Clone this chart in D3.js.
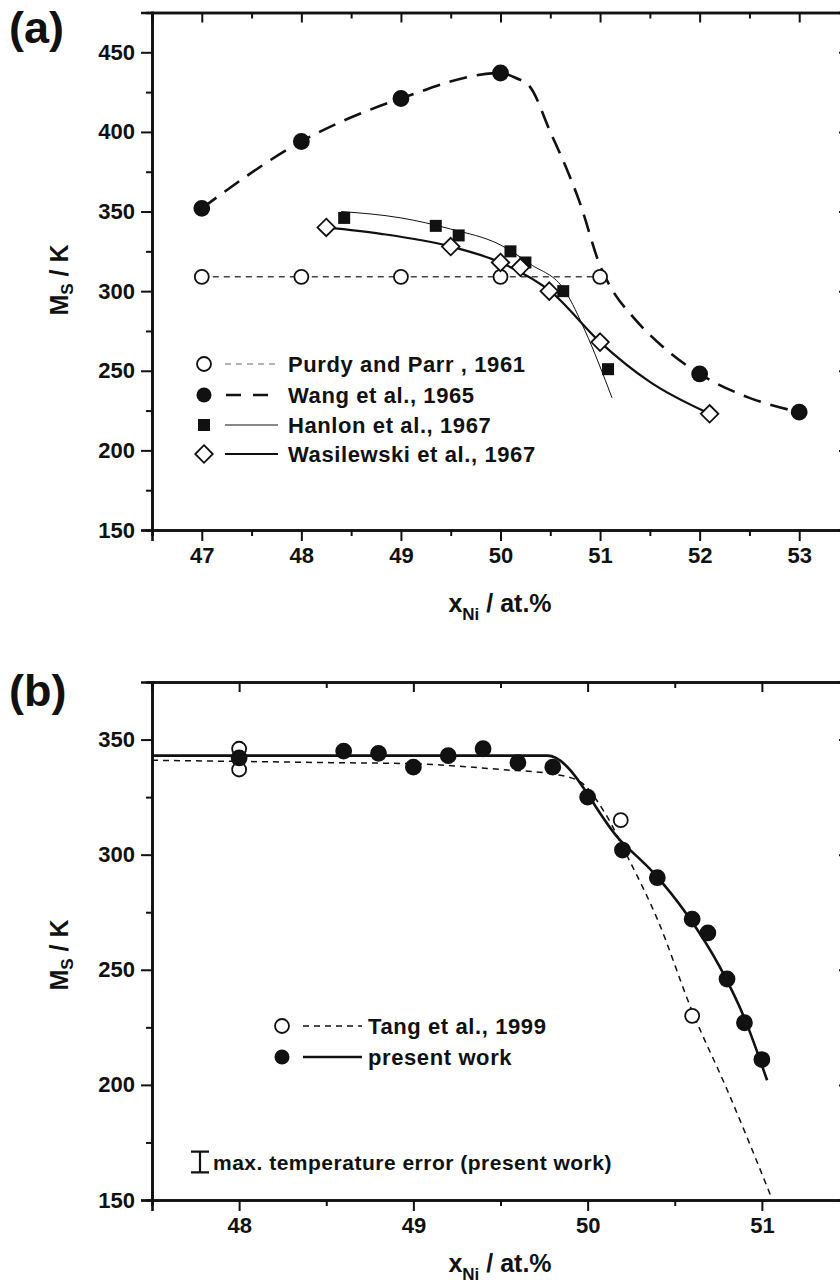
<!DOCTYPE html>
<html lang="en">
<head>
<meta charset="UTF-8"/>
<title>Ms vs xNi</title>
<script src="https://d3js.org/d3.v7.min.js"></script>
<style>
	body { margin: 0; background: #fff; }
	svg text { font-family: "Liberation Sans", Arial, sans-serif; font-weight: bold; fill: #111; }
	.axis path, .axis line { stroke: #111; }
	.axis text { font-size: 22px; }
</style>
</head>
<body>
<script>
	// ---- panel (a) data ----
	var aXTicks = [47,48,49,50,51,52,53];
	var aYTicks = [150,200,250,300,350,400,450];
	var purdy = [[47,309],[48,309],[49,309],[50,309],[51,309]];
	var wang = [[47,352],[48,394],[49,421],[50,437],[52,248],[53,224]];
	var wangFit = [[47,352],[48,394],[49,421],[50,437],[50.15,434],[50.3,428],[50.5,400],[50.67,376],[50.8,355],[51.0,316],[51.15,298],[51.3,286],[51.65,264],[52,248],[52.5,233],[53,224]];
	var hanlon = [[48.43,346],[49.35,341],[49.58,335],[50.1,325],[50.25,318],[50.63,300],[51.08,251]];
	var hanlonFit = [[48.4,350],[49.0,346],[49.5,339],[50.0,329],[50.3,317],[50.65,300],[50.85,275],[51.12,233]];
	var wasil = [[48.25,340],[49.5,328],[50.0,318],[50.2,315],[50.49,300],[51.0,268],[52.1,223]];
	var wasilFit = [[48.25,340],[48.8,336],[49.5,328],[50.0,318],[50.5,300],[51.0,268],[51.5,243],[52.1,223]];
	var aLegend = ["Purdy and Parr , 1961","Wang et al., 1965","Hanlon et al., 1967","Wasilewski et al., 1967"];

	// ---- panel (b) data ----
	var bXTicks = [48,49,50,51];
	var bYTicks = [150,200,250,300,350];
	var tang = [[48,346],[48,337],[50.19,315],[50.6,230]];
	var tangFit = [[47.5,341],[48.5,340],[49,339.5],[49.5,337],[49.8,335],[49.95,332],[50.1,318],[50.23,299],[50.4,272],[50.6,232],[50.8,198],[51.05,152]];
	var present = [[48,342],[48.6,345],[48.8,344],[49.0,338],[49.2,343],[49.4,346],[49.6,340],[49.8,338],[50.0,325],[50.2,302],[50.4,290],[50.6,272],[50.69,266],[50.8,246],[50.9,227],[51.0,211]];
	var presentFit = [[47.5,343],[49.77,343],[50.19,306],[50.38,292],[50.57,274],[50.76,251],[50.9,229],[51.03,202]];
	var bLegend = ["Tang et al., 1999","present work"];
	var maxErr = 4.5;

	var W = 840, H = 1286;
	var svg = d3.select("body").append("svg").attr("width",W).attr("height",H);

	function frame(g, x, y, xTicks, yTicks, xMinor, yMinor){
		var x0 = x.range()[0], x1 = x.range()[1], y0 = y.range()[0], y1 = y.range()[1];
		g.append("g").attr("class","axis").attr("transform","translate(0,"+y0+")")
			.call(d3.axisBottom(x).tickValues(xTicks).tickSize(11).tickPadding(6).tickFormat(d3.format("d")));
		g.append("g").attr("class","axis").attr("transform","translate(0,"+y0+")")
			.call(d3.axisBottom(x).tickValues(xMinor).tickSize(6).tickFormat(""));
		g.append("g").attr("class","axis").attr("transform","translate("+x0+",0)")
			.call(d3.axisLeft(y).tickValues(yTicks).tickSize(11).tickPadding(6).tickFormat(d3.format("d")));
		g.append("g").attr("class","axis").attr("transform","translate("+x0+",0)")
			.call(d3.axisLeft(y).tickValues(yMinor).tickSize(6).tickFormat(""));
		g.append("g").attr("class","axis").attr("transform","translate(0,"+y1+")")
			.call(d3.axisBottom(x).tickValues(xTicks).tickSize(10).tickFormat(""));
		g.append("g").attr("class","axis").attr("transform","translate(0,"+y1+")")
			.call(d3.axisBottom(x).tickValues(xMinor).tickSize(6).tickFormat(""));
		g.append("g").attr("class","axis").attr("transform","translate("+x1+",0)")
			.call(d3.axisLeft(y).tickValues(yTicks).tickSize(10).tickFormat(""));
		g.append("g").attr("class","axis").attr("transform","translate("+x1+",0)")
			.call(d3.axisLeft(y).tickValues(yMinor).tickSize(6).tickFormat(""));
		g.selectAll(".axis path").attr("stroke-width",2.6);
		g.selectAll(".axis line").attr("stroke-width",2);
	}

	function titles(g, letter, ly, yMid, xTitleY){
		g.append("text").attr("x",9).attr("y",ly).attr("font-size",45).text(letter);
		var yt = g.append("text").attr("transform","translate(68,"+yMid+") rotate(-90)")
			.attr("text-anchor","middle").attr("font-size",25);
		yt.append("tspan").text("M");
		yt.append("tspan").attr("font-size",17).attr("dy",5).text("S");
		yt.append("tspan").attr("dy",-5).text(" / K");
		var xt = g.append("text").attr("x",500).attr("y",xTitleY).attr("text-anchor","middle").attr("font-size",25);
		xt.append("tspan").text("x");
		xt.append("tspan").attr("font-size",17).attr("dy",8).text("Ni");
		xt.append("tspan").attr("dy",-8).text("  / at.%");
	}

	function line(x, y, curve){
		return d3.line().x(function(d){ return x(d[0]); }).y(function(d){ return y(d[1]); }).curve(curve || d3.curveMonotoneX);
	}

	function circles(g, data, x, y, r, filled){
		g.selectAll(null).data(data).enter().append("circle")
			.attr("cx",function(d){ return x(d[0]); })
			.attr("cy",function(d){ return y(d[1]); })
			.attr("r",r)
			.attr("fill",filled ? "#111" : "#fff")
			.attr("stroke","#111").attr("stroke-width",1.8);
	}

	function squares(g, data, x, y, s){
		g.selectAll(null).data(data).enter().append("rect")
			.attr("x",function(d){ return x(d[0]) - s/2; })
			.attr("y",function(d){ return y(d[1]) - s/2; })
			.attr("width",s).attr("height",s).attr("fill","#111");
	}

	function diamonds(g, data, x, y, s){
		g.selectAll(null).data(data).enter().append("path")
			.attr("d",d3.symbol().type(d3.symbolDiamond2).size(s*s))
			.attr("transform",function(d){ return "translate("+x(d[0])+","+y(d[1])+")"; })
			.attr("fill","#fff").attr("stroke","#111").attr("stroke-width",1.8);
	}

	// ================= panel (a) =================
	var xA = d3.scaleLinear().domain([46.5,53.5]).range([152,849]);
	var yA = d3.scaleLinear().domain([150,475]).range([530,12.5]);
	var gA = svg.append("g");

	gA.append("path").datum(purdy).attr("d",line(xA,yA,d3.curveLinear))
		.attr("fill","none").attr("stroke","#444").attr("stroke-width",1.5).attr("stroke-dasharray","6,5");
	gA.append("path").datum(wangFit).attr("d",line(xA,yA))
		.attr("fill","none").attr("stroke","#111").attr("stroke-width",2.6).attr("stroke-dasharray","18,10");
	gA.append("path").datum(hanlonFit).attr("d",line(xA,yA))
		.attr("fill","none").attr("stroke","#111").attr("stroke-width",1);
	gA.append("path").datum(wasilFit).attr("d",line(xA,yA))
		.attr("fill","none").attr("stroke","#111").attr("stroke-width",2.2);

	circles(gA, purdy, xA, yA, 7, false);
	circles(gA, wang, xA, yA, 7.5, true);
	squares(gA, hanlon, xA, yA, 12);
	diamonds(gA, wasil, xA, yA, 14);

	frame(gA, xA, yA, aXTicks, aYTicks, [47.5,48.5,49.5,50.5,51.5,52.5], [175,225,275,325,375,425]);
	titles(gA, "(a)", 43, 280, 612);

	// legend (a)
	var legA = gA.append("g");
	var rowsA = [364,395,425,454];
	aLegend.forEach(function(t,i){
		var ry = rowsA[i];
		var ln = legA.append("line").attr("x1",225).attr("x2",278).attr("y1",ry).attr("y2",ry).attr("stroke","#111");
		if(i==0) ln.attr("stroke","#999").attr("stroke-width",1.5).attr("stroke-dasharray","6,5");
		if(i==1) ln.attr("stroke-width",2.6).attr("stroke-dasharray","15,12").attr("x1",226);
		if(i==2) ln.attr("stroke-width",1);
		if(i==3) ln.attr("stroke-width",2.2);
		legA.append("text").attr("x",288).attr("y",ry+8).attr("font-size",22).attr("letter-spacing",0.6).text(t);
	});
	legA.append("circle").attr("cx",204).attr("cy",rowsA[0]).attr("r",7).attr("fill","#fff").attr("stroke","#111").attr("stroke-width",1.8);
	legA.append("circle").attr("cx",204).attr("cy",rowsA[1]).attr("r",7.5).attr("fill","#111");
	legA.append("rect").attr("x",198).attr("y",rowsA[2]-6).attr("width",12).attr("height",12).attr("fill","#111");
	legA.append("path").attr("d",d3.symbol().type(d3.symbolDiamond2).size(196))
		.attr("transform","translate(204,"+rowsA[3]+")").attr("fill","#fff").attr("stroke","#111").attr("stroke-width",1.8);

	// ================= panel (b) =================
	var xB = d3.scaleLinear().domain([47.5,51.5]).range([152,849]);
	var yB = d3.scaleLinear().domain([150,375]).range([1200,682]);
	var gB = svg.append("g");
	svg.append("clipPath").attr("id","clipB").append("rect")
		.attr("x",152).attr("y",682).attr("width",697).attr("height",518);

	gB.append("path").datum(tangFit).attr("d",line(xB,yB)).attr("clip-path","url(#clipB)")
		.attr("fill","none").attr("stroke","#111").attr("stroke-width",1.5).attr("stroke-dasharray","6,5");
	gB.append("path").datum(presentFit).attr("d",line(xB,yB))
		.attr("fill","none").attr("stroke","#111").attr("stroke-width",2.6);

	circles(gB, tang, xB, yB, 7, false);
	circles(gB, present, xB, yB, 7.5, true);

	frame(gB, xB, yB, bXTicks, bYTicks, [48.5,49.5,50.5], [175,225,275,325]);
	titles(gB, "(b)", 706, 955, 1272);

	// legend (b)
	var legB = gB.append("g");
	var rowsB = [1026,1057];
	legB.append("circle").attr("cx",282).attr("cy",rowsB[0]).attr("r",7).attr("fill","#fff").attr("stroke","#111").attr("stroke-width",1.8);
	legB.append("circle").attr("cx",282).attr("cy",rowsB[1]).attr("r",7.5).attr("fill","#111");
	legB.append("line").attr("x1",303).attr("x2",362).attr("y1",rowsB[0]).attr("y2",rowsB[0])
		.attr("stroke","#111").attr("stroke-width",1.5).attr("stroke-dasharray","6,5");
	legB.append("line").attr("x1",303).attr("x2",362).attr("y1",rowsB[1]).attr("y2",rowsB[1])
		.attr("stroke","#111").attr("stroke-width",2.6);
	bLegend.forEach(function(t,i){
		legB.append("text").attr("x",368).attr("y",rowsB[i]+8).attr("font-size",22).attr("letter-spacing",0.6).text(t);
	});

	// error bar symbol
	var eh = yB(150) - yB(150 + maxErr);
	var ey = 1162;
	legB.append("path")
		.attr("d","M191,"+(ey-eh)+"H209M200,"+(ey-eh)+"V"+(ey+eh)+"M191,"+(ey+eh)+"H209")
		.attr("fill","none").attr("stroke","#111").attr("stroke-width",2.2);
	legB.append("text").attr("x",213).attr("y",ey+8).attr("font-size",21).attr("letter-spacing",0.5).text("max. temperature error (present work)");
</script>
</body>
</html>
